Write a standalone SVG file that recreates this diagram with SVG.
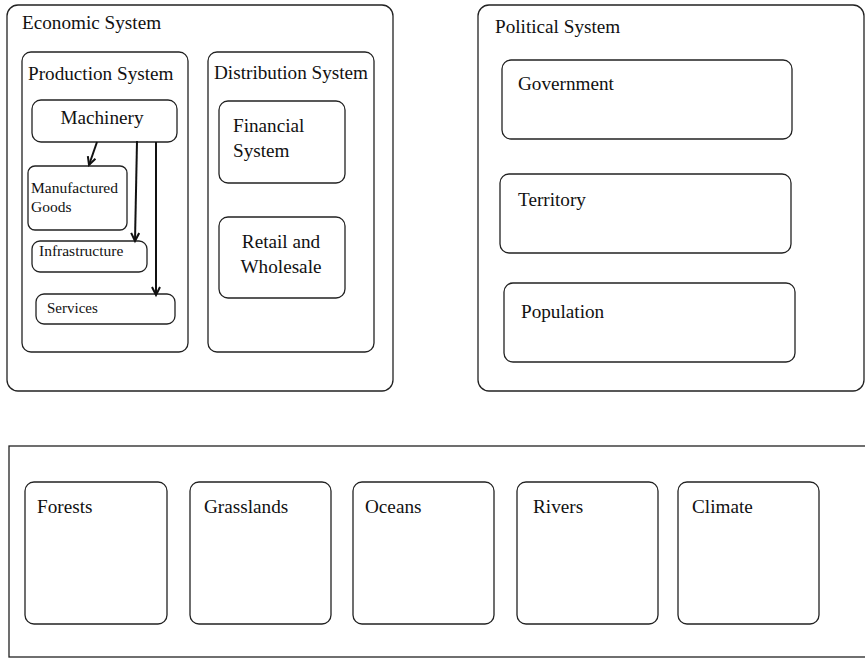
<svg xmlns="http://www.w3.org/2000/svg" width="865" height="659" viewBox="0 0 865 659">
<style>
.box{fill:#fff;stroke:#222;stroke-width:1.3}
text{font-family:'Liberation Serif','DejaVu Serif',serif;fill:#111}
.t19{font-size:19.2px}
.t15{font-size:15.5px}
.t15s{font-size:15px}
.conn{stroke:#111;stroke-width:2;fill:none}
</style>
<defs>
<marker id="arr" markerWidth="12" markerHeight="12" refX="9" refY="5" orient="auto" markerUnits="userSpaceOnUse">
<path d="M1,1 L9,5 L1,9" fill="none" stroke="#111" stroke-width="2"/>
</marker>
</defs>
<rect width="865" height="659" fill="#fff"/>

<g id="economic-system">
<rect class="box" x="7" y="5" width="386" height="386" rx="11"/>
<text class="t19" x="22" y="29">Economic System</text>
</g>
<g id="production-system">
<rect class="box" x="22" y="52" width="166" height="300" rx="9"/>
<text class="t19" x="28" y="80">Production System</text>
</g>
<g id="distribution-system">
<rect class="box" x="208" y="52" width="166" height="300" rx="9"/>
<text class="t19" x="214" y="79">Distribution System</text>
</g>
<g id="machinery">
<rect class="box" x="32" y="100" width="145" height="42" rx="9"/>
<text class="t19" x="102" y="124" text-anchor="middle">Machinery</text>
</g>
<g id="manufactured-goods">
<rect class="box" x="28" y="166" width="99" height="64" rx="7"/>
<text class="t15" x="31" y="193">Manufactured</text>
<text class="t15" x="31" y="212">Goods</text>
</g>
<g id="infrastructure">
<rect class="box" x="32" y="241" width="115" height="31" rx="8"/>
<text class="t15" x="39" y="256">Infrastructure</text>
</g>
<g id="services">
<rect class="box" x="36" y="294" width="139" height="30" rx="8"/>
<text class="t15s" x="47" y="313">Services</text>
</g>
<g id="financial-system">
<rect class="box" x="219" y="101" width="126" height="82" rx="9"/>
<text class="t19" x="233" y="132">Financial</text>
<text class="t19" x="233" y="157">System</text>
</g>
<g id="retail-wholesale">
<rect class="box" x="219" y="217" width="126" height="81" rx="9"/>
<text class="t19" x="281" y="248" text-anchor="middle">Retail and</text>
<text class="t19" x="281" y="273" text-anchor="middle">Wholesale</text>
</g>

<g id="political-system">
<rect class="box" x="478" y="5" width="386" height="386" rx="11"/>
<text class="t19" x="495" y="33">Political System</text>
</g>
<g id="government">
<rect class="box" x="502" y="60" width="290" height="79" rx="9"/>
<text class="t19" x="518" y="90">Government</text>
</g>
<g id="territory">
<rect class="box" x="500" y="174" width="291" height="79" rx="9"/>
<text class="t19" x="518" y="206">Territory</text>
</g>
<g id="population">
<rect class="box" x="504" y="283" width="291" height="79" rx="9"/>
<text class="t19" x="521" y="318">Population</text>
</g>

<g id="environment">
<rect class="box" x="9" y="446" width="880" height="211"/>
</g>
<g id="forests">
<rect class="box" x="25" y="482" width="142" height="142" rx="9"/>
<text class="t19" x="37" y="513">Forests</text>
</g>
<g id="grasslands">
<rect class="box" x="190" y="482" width="141" height="142" rx="9"/>
<text class="t19" x="204" y="513">Grasslands</text>
</g>
<g id="oceans">
<rect class="box" x="353" y="482" width="141" height="142" rx="9"/>
<text class="t19" x="365" y="513">Oceans</text>
</g>
<g id="rivers">
<rect class="box" x="517" y="482" width="141" height="142" rx="9"/>
<text class="t19" x="533" y="513">Rivers</text>
</g>
<g id="climate">
<rect class="box" x="678" y="482" width="141" height="142" rx="9"/>
<text class="t19" x="692" y="513">Climate</text>
</g>

<g id="connectors">
<line class="conn" x1="97" y1="142" x2="89" y2="165" marker-end="url(#arr)"/>
<line class="conn" x1="137" y1="141" x2="135" y2="241" marker-end="url(#arr)"/>
<line class="conn" x1="156" y1="142" x2="156" y2="295" marker-end="url(#arr)"/>
</g>
</svg>
